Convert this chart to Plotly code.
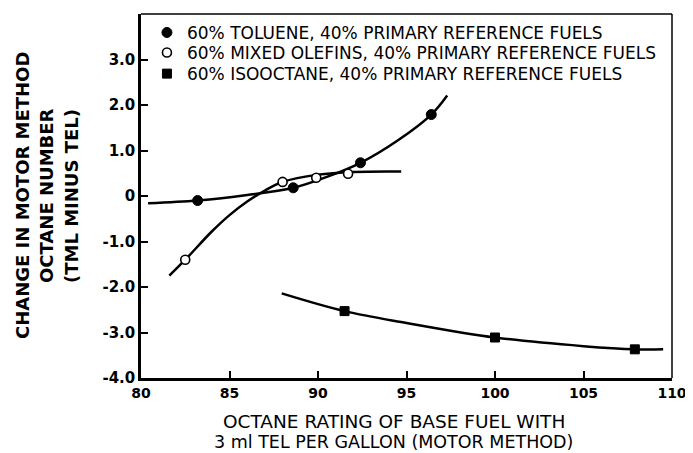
import plotly.graph_objects as go

# Measured data points
toluene_x = [83.2, 88.6, 92.4, 96.4]
toluene_y = [-0.10, 0.18, 0.73, 1.79]
olefin_x = [82.5, 88.0, 89.9, 91.7]
olefin_y = [-1.40, 0.31, 0.40, 0.49]
iso_x = [91.5, 100.0, 107.9]
iso_y = [-2.53, -3.11, -3.37]

# Hand-drawn fitted curves
toluene_curve_x = [80.4, 83.2, 86.0, 88.6, 90.5, 92.4, 94.5, 96.4, 97.3]
toluene_curve_y = [-0.16, -0.10, 0.02, 0.18, 0.42, 0.73, 1.22, 1.79, 2.21]
olefin_curve_x = [81.6, 82.5, 84.0, 85.0, 86.0, 87.0, 88.0, 90.0, 92.0, 94.7]
olefin_curve_y = [-1.75, -1.40, -0.78, -0.42, -0.12, 0.12, 0.31, 0.47, 0.53, 0.54]
iso_curve_x = [87.95, 91.5, 95.0, 100.0, 105.0, 107.9, 109.5]
iso_curve_y = [-2.14, -2.53, -2.79, -3.11, -3.30, -3.37, -3.37]

x_ticks = [80, 85, 90, 95, 100, 105, 110]
x_ticktext = ["80", "85", "90", "95", "100", "105", "110"]
y_ticks = [3, 2, 1, 0, -1, -2, -3, -4]
y_ticktext = ["3.0", "2.0", "1.0", "0", "-1.0", "-2.0", "-3.0", "-4.0"]

legend_names = [
    "60% TOLUENE, 40% PRIMARY REFERENCE FUELS",
    "60% MIXED OLEFINS, 40% PRIMARY REFERENCE FUELS",
    "60% ISOOCTANE, 40% PRIMARY REFERENCE FUELS",
]

FONT = "DejaVu Sans"
LW = 2.5

fig = go.Figure()

for cx, cy in [(toluene_curve_x, toluene_curve_y),
               (olefin_curve_x, olefin_curve_y),
               (iso_curve_x, iso_curve_y)]:
    fig.add_trace(go.Scatter(x=cx, y=cy, mode="lines",
                             line=dict(color="black", width=LW, shape="spline", smoothing=1.0),
                             showlegend=False, hoverinfo="skip"))

fig.add_trace(go.Scatter(x=toluene_x, y=toluene_y, mode="markers", name=legend_names[0],
                         legend="legend",
                         marker=dict(symbol="circle", size=10, color="black",
                                     line=dict(color="black", width=1))))
fig.add_trace(go.Scatter(x=olefin_x, y=olefin_y, mode="markers", name=legend_names[1],
                         legend="legend2",
                         marker=dict(symbol="circle", size=9, color="white",
                                     line=dict(color="black", width=1.6))))
fig.add_trace(go.Scatter(x=iso_x, y=iso_y, mode="markers", name=legend_names[2],
                         legend="legend3",
                         marker=dict(symbol="square", size=9, color="black",
                                     line=dict(color="black", width=1))))

axis_common = dict(showgrid=False, zeroline=False, ticks="inside", ticklen=7,
                   tickwidth=1.5, tickcolor="black", showline=True, linecolor="black",
                   linewidth=LW, mirror=False)

def leg(y):
    return dict(x=0.0112, y=y, xanchor="left", yanchor="middle",
                bgcolor="rgba(0,0,0,0)", borderwidth=0,
                font=dict(size=17, family=FONT))

fig.update_layout(
    width=685, height=445,
    margin=dict(l=133, r=16, t=6, b=75),
    paper_bgcolor="white", plot_bgcolor="white",
    font=dict(family=FONT, color="black"),
    xaxis=dict(range=[80, 110], tickvals=x_ticks, ticktext=x_ticktext,
               tickfont=dict(size=14, weight="bold", family=FONT), **axis_common),
    yaxis=dict(range=[-4, 4], tickvals=y_ticks, ticktext=y_ticktext,
               tickfont=dict(size=15, weight="bold", family=FONT), **axis_common),
    legend=leg(0.948),
    legend2=leg(0.893),
    legend3=leg(0.835),
    showlegend=True,
)

# thinner top and right frame lines
fig.add_shape(type="line", xref="paper", yref="paper", x0=0, x1=1, y0=1, y1=1,
              line=dict(color="black", width=1.5))
fig.add_shape(type="line", xref="paper", yref="paper", x0=1, x1=1, y0=0, y1=1,
              line=dict(color="black", width=1.5))

# y-axis title (three rotated lines)
for text, shift in [("CHANGE IN MOTOR METHOD", -119),
                    ("OCTANE NUMBER", -95),
                    ("(TML MINUS TEL)", -70)]:
    fig.add_annotation(text=text, xref="paper", yref="paper", x=0, y=0.5,
                       xanchor="center", yanchor="middle", xshift=shift,
                       textangle=-90, showarrow=False,
                       font=dict(size=18, family=FONT, weight="bold"))

# x-axis title (two lines)
for text, shift, size in [("OCTANE RATING OF BASE FUEL WITH", -43, 18.5),
                          ("3 ml TEL PER GALLON (MOTOR METHOD)", -64, 17.5)]:
    fig.add_annotation(text=text, xref="paper", yref="paper", x=0.476, y=0,
                       xanchor="center", yanchor="middle", yshift=shift,
                       showarrow=False, font=dict(size=size, family=FONT))

fig.write_html("out.html")
